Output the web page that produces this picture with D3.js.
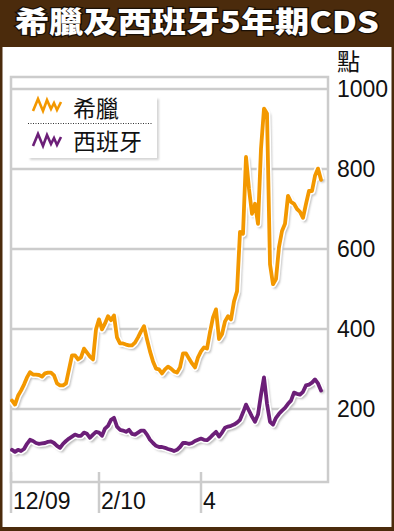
<!DOCTYPE html>
<html>
<head>
<meta charset="utf-8">
<script src="https://cdn.jsdelivr.net/npm/d3@7"></script>
<style>
  body { margin: 0; background: #fff; }
  svg { display: block; }
</style>
</head>
<body>
<div id="chart"></div>
<script>
// trading-day index (roughly every 2nd session), Dec 2009 - Jun 2010
var days = d3.range(0, 104);

var greece = [
  221, 211, 233, 246, 261, 279, 292, 286, 286, 285,
  281, 289, 291, 291, 284, 264, 259, 259, 264, 299,
  334, 334, 324, 329, 351, 341, 331, 324, 399, 424,
  399, 414, 432, 422, 434, 379, 364, 364, 361, 359,
  359, 366, 379, 394, 407, 374, 344, 319, 301, 299,
  289, 299, 306, 301, 294, 291, 304, 339, 339, 326,
  314, 304, 329, 344, 354, 351, 392, 429, 449, 375,
  387, 419, 432, 424, 469, 494, 643, 638, 830, 750,
  688, 713, 663, 851, 951, 939, 562, 512, 525, 605,
  645, 663, 733, 718, 713, 700, 693, 678, 713, 745,
  745, 783, 801, 773
];

var spain = [
  98, 93, 98, 95, 100, 113, 123, 120, 115, 113,
  114, 115, 118, 119, 115, 108, 103, 113, 120, 126,
  131, 136, 133, 133, 141, 138, 128, 136, 143, 141,
  133, 151, 158, 173, 178, 156, 148, 146, 143, 148,
  138, 136, 141, 146, 146, 136, 123, 115, 108, 105,
  105, 103, 100, 98, 95, 98, 105, 115, 115, 113,
  115, 120, 123, 126, 123, 122, 128, 136, 143, 131,
  141, 153, 156, 158, 161, 166, 173, 191, 211, 196,
  181, 168, 186, 236, 279, 213, 168, 161, 178, 188,
  196, 203, 213, 221, 241, 238, 236, 243, 259, 261,
  266, 274, 264, 246
];

var yTicks = [200, 400, 600, 800, 1000];
var xTickDays = [0, 29, 63];
var xTickLabels = ["12/09", "2/10", "4"];

var seriesNames = ["希臘", "西班牙"];
var seriesColors = ["#f39800", "#6c1f78"];

var W = 394, H = 531;
var svg = d3.select("#chart").append("svg")
  .attr("width", W)
  .attr("height", H);

var defs = svg.append("defs");
defs.append("filter").attr("id", "blur")
  .attr("x", "-10%").attr("y", "-10%").attr("width", "120%").attr("height", "120%")
  .append("feGaussianBlur").attr("stdDeviation", 1.3);

// frame + title band
svg.append("rect").attr("width", W).attr("height", H).attr("fill", "#4b2b0c");
svg.append("rect")
  .attr("x", 2.5).attr("y", 47)
  .attr("width", 389).attr("height", 480)
  .attr("fill", "#fff");

var title = svg.append("text")
  .attr("x", 0)
  .attr("y", 0)
  .style("font-family", "'Noto Sans CJK TC', 'Noto Sans CJK SC', sans-serif")
  .style("font-weight", 900)
  .style("font-size", "29px")
  .attr("fill", "#fff")
  .attr("stroke", "#1a1006")
  .attr("stroke-width", 2.5)
  .style("paint-order", "stroke")
  .text("希臘及西班牙5年期CDS");
// stretch horizontally to the band width, like the print version
var tw = title.node().getComputedTextLength();
title.attr("transform", "translate(15,33) scale(" + (364 / tw) + ",1)");

// scales
var x = d3.scaleLinear().domain([0, 103]).range([12, 321]);
var y = d3.scaleLinear().domain([0, 1000]).range([489, 89]);

var boxLeft = 11, boxRight = 328, boxTop = 77, boxBottom = 482;
var grey = "#cccccc";

// gridlines
svg.append("g").selectAll("line")
  .data(yTicks)
  .enter().append("line")
  .attr("x1", boxLeft).attr("x2", boxRight)
  .attr("y1", function(d) { return y(d); })
  .attr("y2", function(d) { return y(d); })
  .attr("stroke", grey)
  .attr("stroke-width", 2.5);

// plot box
svg.append("rect")
  .attr("x", boxLeft).attr("y", boxTop)
  .attr("width", boxRight - boxLeft).attr("height", boxBottom - boxTop)
  .attr("fill", "none")
  .attr("stroke", grey)
  .attr("stroke-width", 2.5);

// y labels on the right
svg.append("g").selectAll("text")
  .data(yTicks)
  .enter().append("text")
  .attr("x", 337)
  .attr("y", function(d) { return y(d); })
  .attr("dy", "0.36em")
  .style("font-family", "'Liberation Sans', Arial, sans-serif")
  .style("font-size", "23px")
  .attr("fill", "#111")
  .text(function(d) { return d; });

svg.append("text")
  .attr("x", 337).attr("y", 70)
  .style("font-family", "'Noto Sans CJK TC', sans-serif")
  .style("font-size", "23px")
  .attr("fill", "#111")
  .text("點");

// x ticks
var xt = svg.append("g").selectAll("g")
  .data(xTickDays)
  .enter().append("g");

xt.append("line")
  .attr("x1", function(d, i) { return i == 0 ? boxLeft : x(d); })
  .attr("x2", function(d, i) { return i == 0 ? boxLeft : x(d); })
  .attr("y1", 472).attr("y2", 513)
  .attr("stroke", grey)
  .attr("stroke-width", 2.5);

xt.append("text")
  .attr("x", function(d, i) { return (i == 0 ? boxLeft : x(d)) + 2; })
  .attr("y", 509)
  .style("font-family", "'Liberation Sans', Arial, sans-serif")
  .style("font-size", "23px")
  .attr("fill", "#111")
  .text(function(d, i) { return xTickLabels[i]; });

// lines
var line = d3.line()
  .x(function(d, i) { return x(days[i]); })
  .y(function(d) { return y(d); });

[spain, greece].forEach(function(vals, k) {
  var color = k == 0 ? seriesColors[1] : seriesColors[0];
  svg.append("path")
    .attr("d", line(vals))
    .attr("transform", "translate(2,2.5)")
    .attr("fill", "none")
    .attr("stroke", "#b8b8b8")
    .attr("stroke-width", 4)
    .attr("stroke-linejoin", "round")
    .attr("filter", "url(#blur)");
  svg.append("path")
    .attr("d", line(vals))
    .attr("fill", "none")
    .attr("stroke", "#fff")
    .attr("stroke-width", 7)
    .attr("stroke-linejoin", "round");
  svg.append("path")
    .attr("d", line(vals))
    .attr("fill", "none")
    .attr("stroke", color)
    .attr("stroke-width", 3.8)
    .attr("stroke-linejoin", "round")
    .attr("stroke-linecap", "round");
});

// legend
var lg = svg.append("g");
lg.append("rect")
  .attr("x", 30).attr("y", 99).attr("width", 129).attr("height", 61)
  .attr("fill", "#d4d4d4")
  .attr("filter", "url(#blur)");
lg.append("rect")
  .attr("x", 28).attr("y", 97).attr("width", 129).attr("height", 61)
  .attr("fill", "#fff");
lg.append("line")
  .attr("x1", 28).attr("x2", 152)
  .attr("y1", 123.5).attr("y2", 123.5)
  .attr("stroke", "#333")
  .attr("stroke-width", 1)
  .attr("stroke-dasharray", "1,1.5");

var zig = [[0, 12], [5, 0], [10, 12], [14, 1], [18, 10], [21, 4], [24, 11], [28, 3]];
var zigLine = d3.line();

seriesNames.forEach(function(name, i) {
  var gy = i == 0 ? 99 : 134;
  lg.append("path")
    .attr("d", zigLine(zig.map(function(p) { return [33 + p[0], gy + p[1]]; })))
    .attr("fill", "none")
    .attr("stroke", seriesColors[i])
    .attr("stroke-width", 2.6);
  lg.append("text")
    .attr("x", 73)
    .attr("y", i == 0 ? 117 : 150)
    .style("font-family", "'Noto Sans CJK TC', sans-serif")
    .style("font-size", "23px")
    .attr("fill", "#111")
    .text(name);
});
</script>
</body>
</html>
